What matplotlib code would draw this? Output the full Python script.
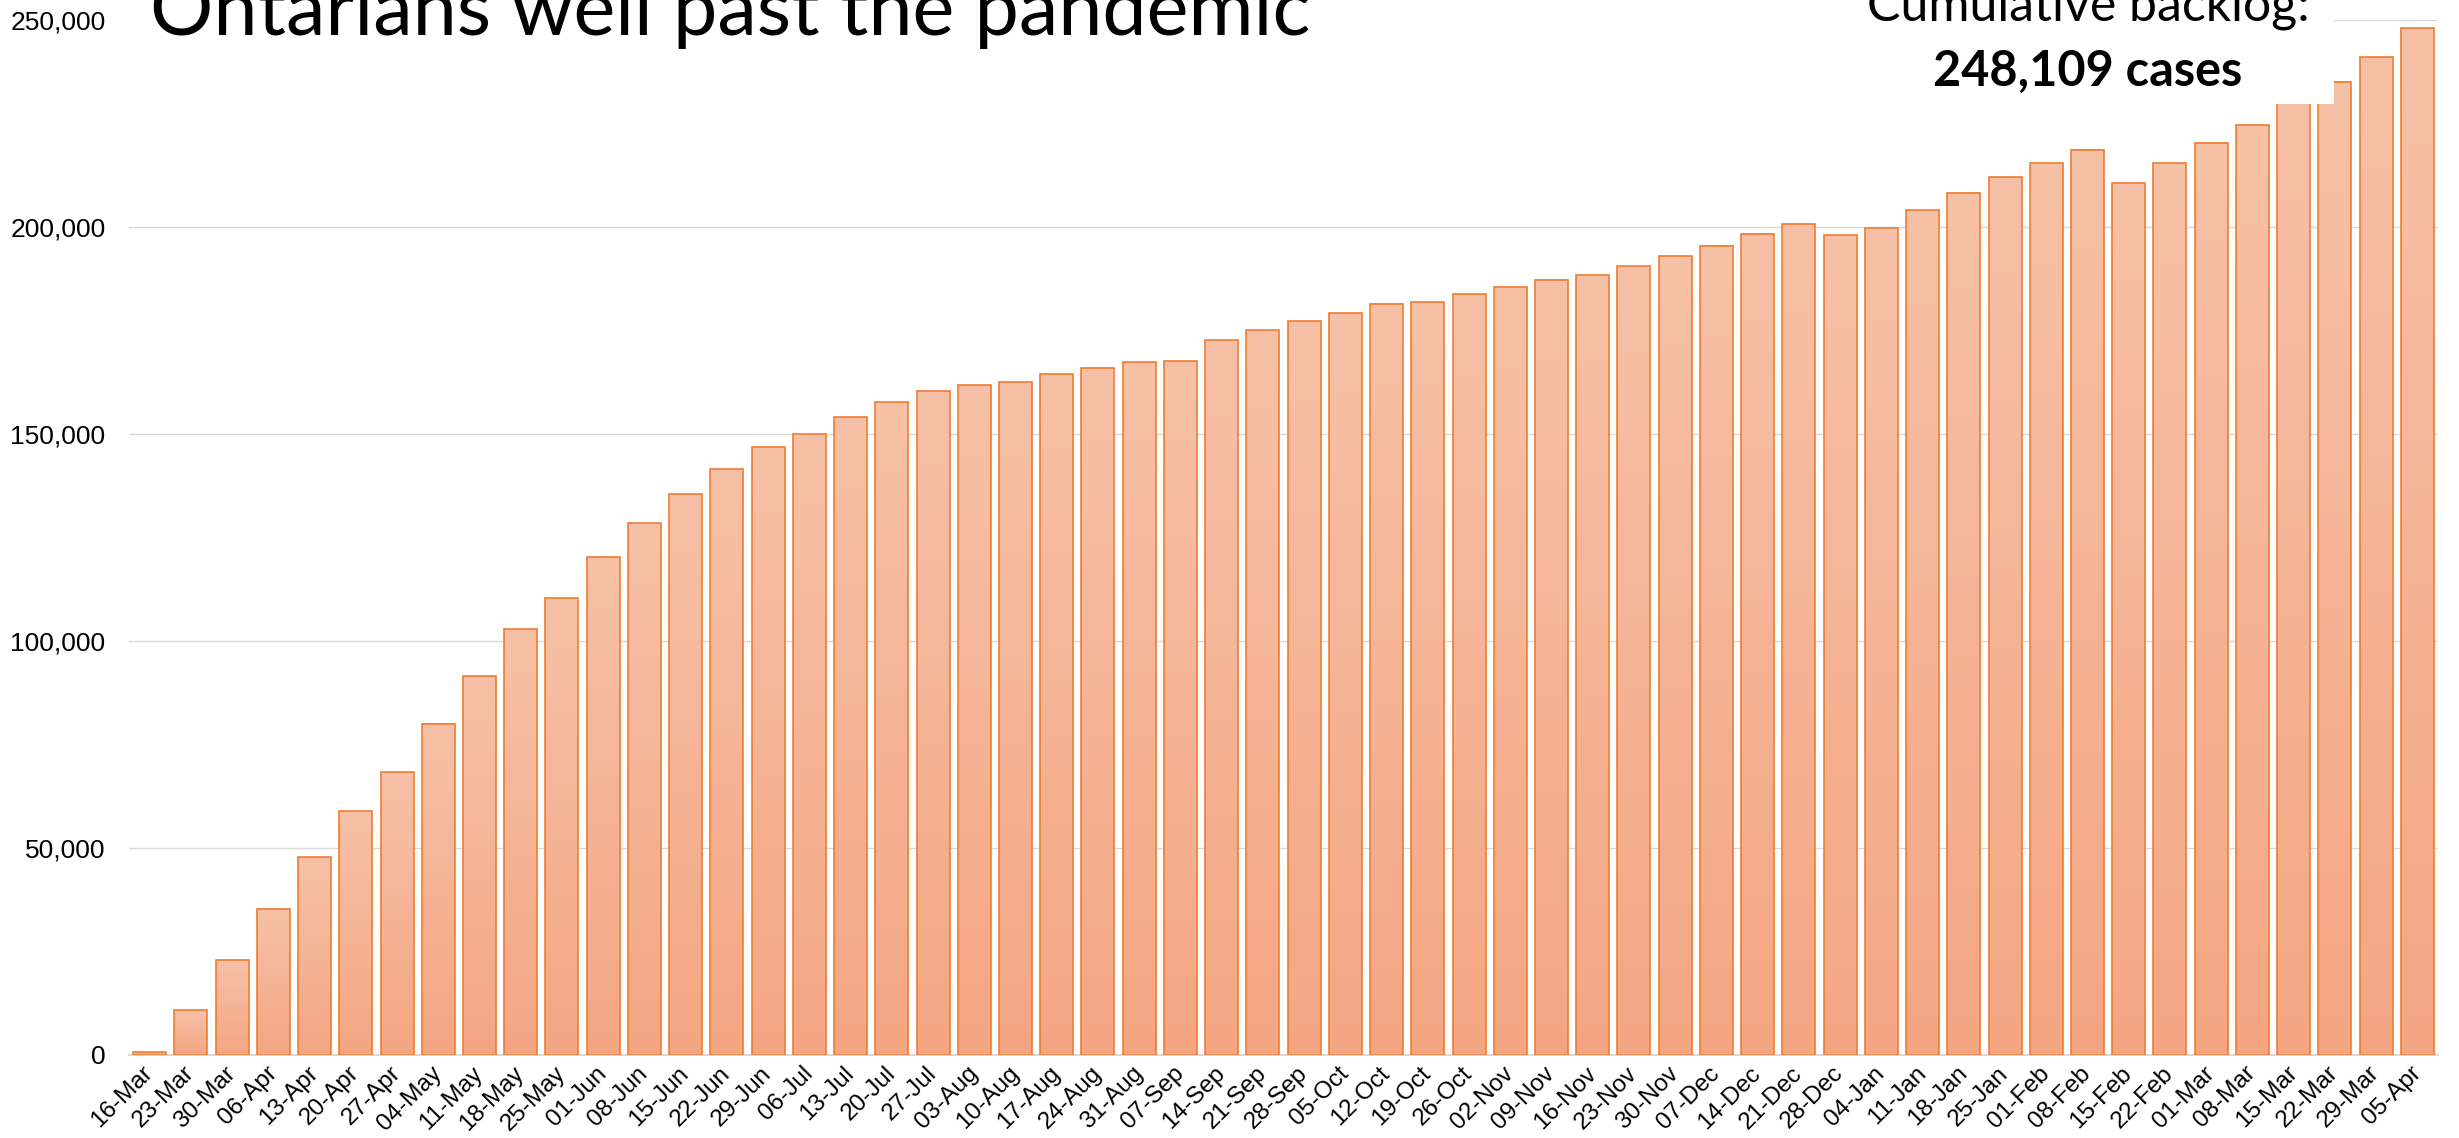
import numpy as np
import matplotlib.pyplot as plt
from matplotlib.patches import Rectangle
from matplotlib.ticker import FuncFormatter

plt.rcParams['font.family'] = ['Liberation Sans', 'DejaVu Sans']

# weekly cumulative backlog of surgeries/procedures
weeks = ['16-Mar', '23-Mar', '30-Mar', '06-Apr', '13-Apr', '20-Apr', '27-Apr',
         '04-May', '11-May', '18-May', '25-May', '01-Jun', '08-Jun', '15-Jun',
         '22-Jun', '29-Jun', '06-Jul', '13-Jul', '20-Jul', '27-Jul', '03-Aug',
         '10-Aug', '17-Aug', '24-Aug', '31-Aug', '07-Sep', '14-Sep', '21-Sep',
         '28-Sep', '05-Oct', '12-Oct', '19-Oct', '26-Oct', '02-Nov', '09-Nov',
         '16-Nov', '23-Nov', '30-Nov', '07-Dec', '14-Dec', '21-Dec', '28-Dec',
         '04-Jan', '11-Jan', '18-Jan', '25-Jan', '01-Feb', '08-Feb', '15-Feb',
         '22-Feb', '01-Mar', '08-Mar', '15-Mar', '22-Mar', '29-Mar', '05-Apr']
backlog = [600, 10700, 22900, 35200, 47800, 58800, 68300,
           80000, 91400, 102900, 110300, 120300, 128500, 135500,
           141500, 146800, 149900, 154100, 157600, 160300, 161800,
           162600, 164500, 166000, 167400, 167600, 172700, 175100,
           177300, 179200, 181500, 181800, 183700, 185400, 187300,
           188400, 190600, 192900, 195500, 198400, 200800, 198000,
           199800, 204100, 208300, 212100, 215500, 218700, 210500,
           215500, 220400, 224600, 231000, 235100, 241100, 248109]

title = 'Ontarians well past the pandemic'
note1 = 'Cumulative backlog:'
note2 = '248,109 cases'

W, H = 2459, 1138
fig = plt.figure(figsize=(W / 100, H / 100), dpi=100)
ax = fig.add_axes([129 / W, 1 - 1054.7 / H, (2438 - 129) / W, (1054.7 - 20) / H])

x = np.arange(len(weeks))
bars = ax.bar(x, backlog, width=0.8, facecolor='none', edgecolor='#ED7D31',
              linewidth=1.2, zorder=3)

# light-to-darker salmon gradient inside every bar
top = np.array([247, 193, 168]) / 255
bot = np.array([244, 166, 131]) / 255
grad = top + np.linspace(0, 1, 256)[:, None, None] * (bot - top)
for b in bars:
    ax.imshow(grad, extent=(b.get_x(), b.get_x() + b.get_width(), 0, b.get_height()),
              aspect='auto', origin='upper', interpolation='bilinear', zorder=2)

ax.set_xlim(-0.5, len(weeks) - 0.5)
ax.set_ylim(0, 250000)
ax.set_yticks(range(0, 250001, 50000))
ax.yaxis.set_major_formatter(FuncFormatter(lambda v, p: f'{v:,.0f}'))
ax.set_xticks(x)
ax.set_xticklabels(weeks, rotation=45, ha='right', va='center',
                   rotation_mode='anchor', fontsize=17.5)
ax.tick_params(length=0)
ax.tick_params(axis='y', pad=17, labelsize=19)
ax.tick_params(axis='x', pad=11)

for s in ['top', 'right', 'left']:
    ax.spines[s].set_visible(False)
ax.spines['bottom'].set_color('#D9D9D9')
ax.spines['bottom'].set_linewidth(1.5)
ax.grid(axis='y', color='#D9D9D9', linewidth=1.0)
ax.set_axisbelow(True)

# white text boxes over the top of the plot
fig.add_artist(Rectangle((129 / W, 1 - 104 / H), (2334 - 129) / W, 104 / H,
                         transform=fig.transFigure, facecolor='white',
                         edgecolor='none', zorder=5))

fig.text(150 / W, 1 - 35 / H, title, fontsize=57, family='Lato',
         ha='left', va='baseline', zorder=6)
fig.text(2088 / W, 1 - 20 / H, note1, fontsize=36, family='Lato',
         ha='center', va='baseline', zorder=6)
fig.text(2088 / W, 1 - 86 / H, note2, fontsize=35, family='Lato', weight='bold',
         ha='center', va='baseline', zorder=6)

fig.savefig('out.png', dpi=100)
